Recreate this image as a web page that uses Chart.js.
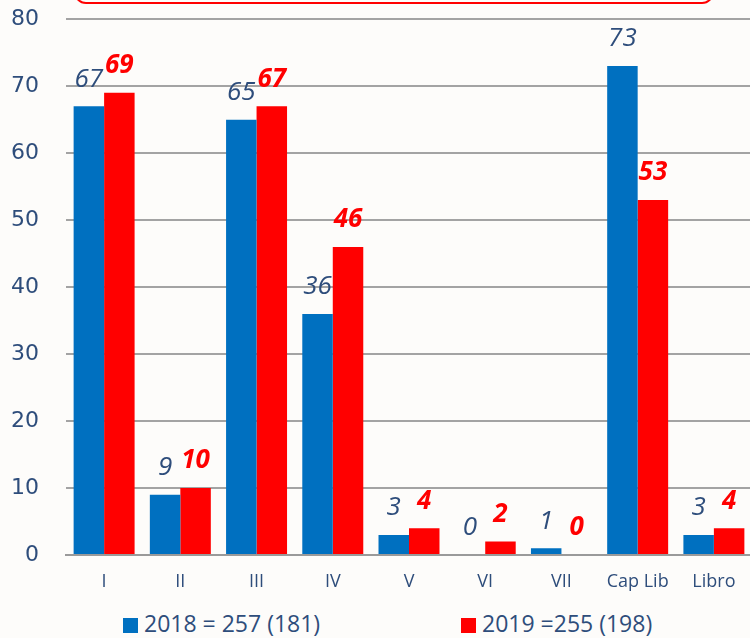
<!DOCTYPE html>
<html>
<head>
<meta charset="utf-8">
<script src="https://cdn.jsdelivr.net/npm/chart.js@4.4.1/dist/chart.umd.min.js"></script>
<style>
  html, body { margin: 0; padding: 0; width: 750px; height: 638px; overflow: hidden; background: #fdfcfa; }
  #caja { position: absolute; left: 74px; top: -40px; width: 636px; height: 40px; border: 2px solid #ff0000; border-radius: 12px; z-index: 2; }
  #lienzo { position: absolute; left: 0; top: -21px; width: 752px; height: 621px; }
  .ley { position: absolute; top: 608px; font-family: "Open Sans", sans-serif; font-size: 23px; color: #2e4d7b; white-space: nowrap; line-height: 30px; }
  .ley span { display: inline-block; width: 15px; height: 15px; margin-right: 6px; vertical-align: -1px; }
</style>
</head>
<body>
<div id="lienzo"><canvas id="grafica"></canvas></div>
<div id="caja"></div>
<div class="ley" style="left:123px"><span style="background:#0070c0"></span>2018 = 257 (181)</div>
<div class="ley" style="left:461px"><span style="background:#ff0000"></span>2019 =255 (198)</div>
<script>
const categorias = ["I", "II", "III", "IV", "V", "VI", "VII", "Cap Lib", "Libro"];
const valores2018 = [67, 9, 65, 36, 3, 0, 1, 73, 3];
const valores2019 = [69, 10, 67, 46, 4, 2, 0, 53, 4];
const ticksY = [0, 10, 20, 30, 40, 50, 60, 70, 80];

const azul = "#0070c0";
const rojo = "#ff0000";
const textoAzul = "#2e4d7b";

// etiquetas encima de cada barra
const etiquetas = {
    id: "etiquetas",
    afterDatasetsDraw(chart) {
        const ctx = chart.ctx;
        ctx.save();
        ctx.textAlign = "center";
        ctx.textBaseline = "middle";
        chart.data.datasets.forEach(function(ds, i) {
            const meta = chart.getDatasetMeta(i);
            if (i === 0) {
                ctx.font = "italic 26px 'Open Sans'";
                ctx.fillStyle = textoAzul;
            } else {
                ctx.font = "italic bold 26px 'Open Sans'";
                ctx.fillStyle = rojo;
            }
            meta.data.forEach(function(barra, j) {
                ctx.fillText(ds.data[j], barra.x, barra.y - 27);
            });
        });
        ctx.restore();
    }
};

new Chart(document.getElementById("grafica").getContext("2d"), {
    type: "bar",
    data: {
        labels: categorias,
        datasets: [{
            label: "2018 = 257 (181)",
            data: valores2018,
            backgroundColor: azul,
            categoryPercentage: 0.8,
            barPercentage: 1.0
        }, {
            label: "2019 =255 (198)",
            data: valores2019,
            backgroundColor: rojo,
            categoryPercentage: 0.8,
            barPercentage: 1.0
        }]
    },
    options: {
        responsive: true,
        maintainAspectRatio: false,
        animation: false,
        layout: { padding: { top: 0, right: 0, left: 0, bottom: 0 } },
        scales: {
            x: {
                grid: { display: false, drawTicks: false },
                border: { display: true, color: "#9a9a9a", width: 2 },
                ticks: { color: textoAzul, font: { family: "Open Sans", size: 18 }, padding: 16 },
                afterFit: function(scale) { scale.height = 45; }
            },
            y: {
                min: 0,
                max: 80,
                afterBuildTicks: function(scale) { scale.ticks = ticksY.map(v => ({ value: v })); },
                grid: { color: "#a3a3a3", lineWidth: 2, drawTicks: false },
                border: { display: false },
                ticks: { color: textoAzul, font: { family: "DejaVu Sans", size: 22 }, padding: 27 },
                afterFit: function(scale) { scale.width = 66; }
            }
        },
        plugins: {
            legend: { display: false },
            tooltip: { enabled: false }
        }
    },
    plugins: [etiquetas]
});
</script>
</body>
</html>
